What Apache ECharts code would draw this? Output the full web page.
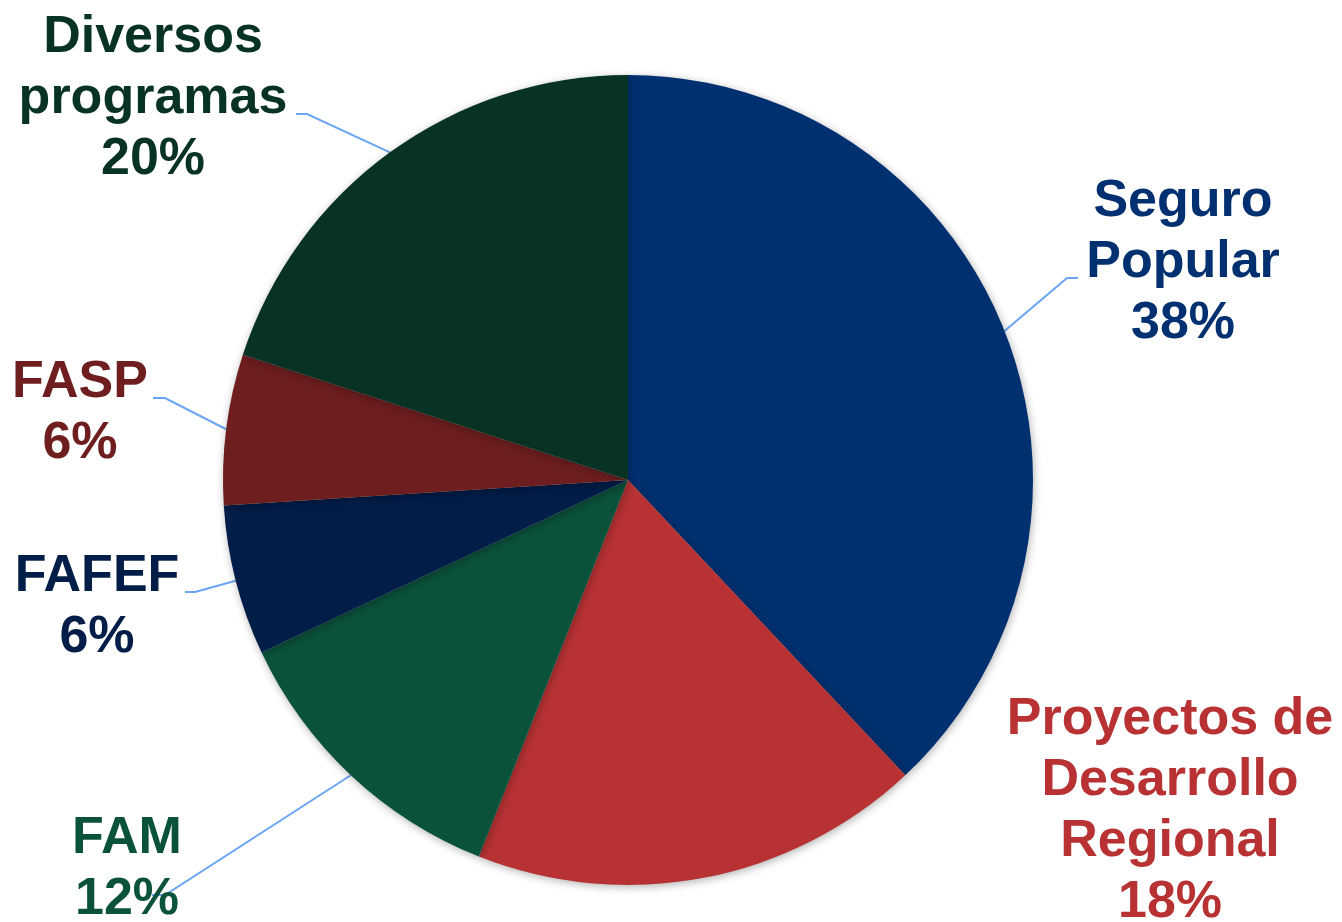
<!DOCTYPE html>
<html>
<head>
<meta charset="utf-8">
<script src="https://cdn.jsdelivr.net/npm/echarts@6/dist/echarts.min.js"></script>
<style>
html,body{margin:0;padding:0;background:#fff;}
#chart{width:1342px;height:922px;}
</style>
</head>
<body>
<div id="chart"></div>
<script>
// Data
var categories = ['Seguro\nPopular', 'Proyectos de\nDesarrollo\nRegional', 'FAM', 'FAFEF', 'FASP', 'Diversos\nprogramas'];
var shares = [38, 18, 12, 6, 6, 20];

// Styling / layout (not data)
var sliceColors = ['#003070', '#B83234', '#0B523B', '#021D48', '#6E1E1F', '#073224'];
var labelAnchors = [
  {x: 1183, y: 263, elbow: [1067, 278], end: [1078, 278], line: true},
  {x: 1170, y: 811, line: false},
  {x: 127, y: 869, elbow: [165, 895], end: [152, 895], line: true},
  {x: 97, y: 607, elbow: [195, 592], end: [185, 592], line: true},
  {x: 80, y: 413, elbow: [165, 398], end: [153, 398], line: true},
  {x: 153, y: 99, elbow: [307, 114], end: [296, 114], line: true}
];

var chart = echarts.init(document.getElementById('chart'));
var seriesData = categories.map(function (c, i) {
  return {
    name: c,
    value: shares[i],
    itemStyle: {color: sliceColors[i]},
    label: {color: sliceColors[i]},
    labelLine: {show: labelAnchors[i].line}
  };
});

chart.setOption({
  animation: false,
  backgroundColor: '#ffffff',
  series: [{
    type: 'pie',
    center: [628, 480],
    radius: 405,
    startAngle: 90,
    clockwise: true,
    data: seriesData,
    itemStyle: {
      shadowBlur: 8,
      shadowColor: 'rgba(0,0,0,0.3)',
      shadowOffsetX: 1,
      shadowOffsetY: 2
    },
    label: {
      show: true,
      position: 'outside',
      formatter: function (p) { return p.name + '\n' + Math.round(p.percent) + '%'; },
      fontFamily: '"Liberation Sans", Arial, sans-serif',
      fontWeight: 'bold',
      fontSize: 52,
      lineHeight: 61,
      align: 'center'
    },
    labelLine: {
      show: true,
      lineStyle: {color: '#6AA5F5', width: 2},
      length: 20,
      length2: 10
    },
    labelLayout: function (params) {
      var a = labelAnchors[params.dataIndex];
      var out = {x: a.x, y: a.y, align: 'center', verticalAlign: 'middle'};
      if (a.line && params.labelLinePoints) {
        out.labelLinePoints = [params.labelLinePoints[0], a.elbow, a.end];
      }
      return out;
    }
  }]
});
</script>
</body>
</html>
